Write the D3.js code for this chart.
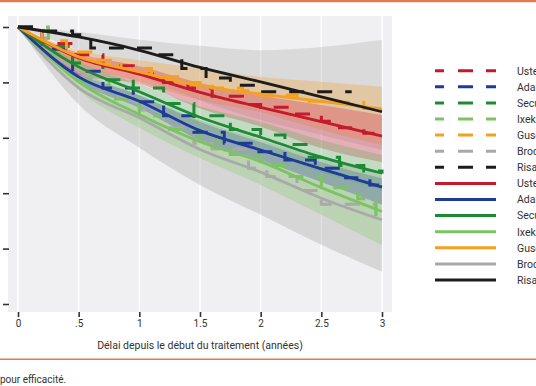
<!DOCTYPE html>
<html><head><meta charset="utf-8">
<script src="https://cdn.jsdelivr.net/npm/d3@7"></script>
<style>body{margin:0;background:#fff;overflow:hidden}svg{display:block}text{font-family:"Roboto","Liberation Sans",sans-serif}</style>
</head><body><svg id="c" width="536" height="386"></svg>
<script>
const series = ["Ustekinumab","Adalimumab","Secukinumab","Ixekizumab","Guselkumab","Brodalumab","Risankizumab"];
const colors = ["#c41a2c","#1f3a98","#1e8a34","#7cc463","#f5a11f","#a9a9a9","#1c1c1c"];
const bandColors = ["#d4485a","#4a6a9a","#5aae5e","#8fcc78","#f0a94a","#b8b8b8","#a8a8a8"];
const bandOpacity = [0.38,0.38,0.3,0.38,0.38,0.45,0.3];
const xTicks = [0,0.5,1,1.5,2,2.5,3];
const xTickLabels = ["0",".5","1","1.5","2","2.5","3"];
const yTicks = [0.5,0.6,0.7,0.8,0.9,1.0];
const times = [0,0.5,1,1.5,2,2.5,3];
// modelled survival (solid lines)
const fitUste = [1,0.944,0.915,0.882,0.855,0.829,0.803];
const fitAda  = [1,0.910,0.866,0.813,0.778,0.744,0.711];
const fitSecu = [1,0.928,0.883,0.837,0.801,0.765,0.736];
const fitIxek = [1,0.901,0.842,0.793,0.757,0.710,0.667];
const fitGuse = [1,0.946,0.919,0.894,0.879,0.866,0.852];
const fitBrod = [1,0.890,0.836,0.779,0.738,0.691,0.652];
const fitRisa = [1,0.982,0.958,0.927,0.901,0.874,0.847];
// confidence bands
const loUste = [1,0.913,0.897,0.853,0.820,0.781,0.756];
const hiUste = [1,0.953,0.929,0.899,0.877,0.859,0.841];
const loAda  = [1,0.901,0.854,0.796,0.760,0.720,0.679];
const hiAda  = [1,0.917,0.877,0.829,0.792,0.756,0.727];
const loSecu = [1,0.919,0.868,0.818,0.778,0.738,0.706];
const hiSecu = [1,0.937,0.897,0.857,0.829,0.796,0.769];
const loIxek = [1,0.886,0.818,0.763,0.715,0.661,0.606];
const hiIxek = [1,0.912,0.859,0.814,0.781,0.742,0.709];
const loGuse = [1,0.933,0.901,0.868,0.846,0.814,0.787];
const hiGuse = [1,0.958,0.940,0.926,0.910,0.901,0.892];
const loBrod = [1,0.860,0.782,0.715,0.661,0.607,0.558];
const hiBrod = [1,0.922,0.877,0.832,0.796,0.763,0.733];
const loRisa = [1,0.958,0.913,0.868,0.832,0.805,0.778];
const hiRisa = [1,0.991,0.977,0.966,0.958,0.964,0.977];
// observed Kaplan-Meier steps [time, survival]
const kmUste = [[0,1],[0.2,0.97],[0.45,0.95],[0.7,0.93],[0.95,0.915],[1.2,0.9],[1.4,0.89],[1.6,0.875],[1.85,0.86],[2.0,0.855],[2.25,0.843],[2.5,0.83],[2.65,0.818],[2.85,0.808],[3,0.8]];
const kmAda  = [[0,1],[0.2,0.96],[0.45,0.92],[0.7,0.89],[0.95,0.865],[1.2,0.84],[1.45,0.81],[1.7,0.79],[1.95,0.775],[2.2,0.76],[2.45,0.745],[2.7,0.728],[2.9,0.715],[3,0.712]];
const kmSecu = [[0,1],[0.2,0.965],[0.45,0.935],[0.7,0.905],[0.95,0.89],[1.2,0.862],[1.45,0.84],[1.75,0.815],[2.0,0.805],[2.2,0.788],[2.4,0.765],[2.65,0.75],[2.85,0.74],[3,0.735]];
const kmIxek = [[0,1],[0.25,0.95],[0.5,0.905],[0.75,0.87],[1.0,0.84],[1.25,0.815],[1.5,0.795],[1.75,0.77],[2.0,0.75],[2.25,0.73],[2.5,0.71],[2.8,0.69],[2.95,0.65],[3,0.65]];
const kmGuse = [[0,1],[0.2,0.975],[0.4,0.955],[0.6,0.94],[0.85,0.925],[1.1,0.91],[1.35,0.9],[1.6,0.89],[1.85,0.885],[2.0,0.877],[2.3,0.866],[2.6,0.864],[2.85,0.853],[3,0.85]];
const kmBrod = [[0,1],[0.2,0.98],[0.27,0.945],[0.45,0.91],[0.6,0.885],[0.75,0.875],[1.0,0.85],[1.2,0.818],[1.45,0.79],[1.6,0.78],[1.9,0.745],[2.05,0.73],[2.3,0.705],[2.5,0.68],[2.95,0.65],[3,0.65]];
const kmRisa = [[0,1],[0.15,0.993],[0.45,0.986],[0.6,0.962],[1.15,0.95],[1.35,0.925],[1.55,0.908],[1.75,0.895],[2.0,0.883],[2.75,0.883]];

const fits=[fitUste,fitAda,fitSecu,fitIxek,fitGuse,fitBrod,fitRisa];
const los=[loUste,loAda,loSecu,loIxek,loGuse,loBrod,loRisa];
const his=[hiUste,hiAda,hiSecu,hiIxek,hiGuse,hiBrod,hiRisa];
const kms=[kmUste,kmAda,kmSecu,kmIxek,kmGuse,kmBrod,kmRisa];

const svg=d3.select("#c");
const x=d3.scaleLinear().domain([0,3]).range([18,382]);
const y=d3.scaleLinear().domain([0.5,1]).range([304,27]);
const orange="#e27b53";
svg.append("rect").attr("x",0).attr("y",0).attr("width",536).attr("height",2.2).attr("fill",orange);
svg.append("rect").attr("x",8).attr("y",16).attr("width",384).attr("height",296).attr("fill","#f0eff1");
svg.append("g").selectAll("line").data(xTicks).join("line")
  .attr("x1",d=>x(d)).attr("x2",d=>x(d)).attr("y1",16).attr("y2",312)
  .attr("stroke","#fff").attr("stroke-width",1.6);
const defs=svg.append("defs");
defs.append("clipPath").attr("id","pc").append("rect").attr("x",8).attr("y",16).attr("width",384).attr("height",296);
const g=svg.append("g").attr("clip-path","url(#pc)");
const area=d3.area().x((d,i)=>x(times[i])).y0(d=>y(d[0])).y1(d=>y(d[1])).curve(d3.curveMonotoneX);
const bandOrder=[6,5,4,0,3,1,2];
bandOrder.forEach(k=>{
  g.append("path").datum(los[k].map((v,i)=>[v,his[k][i]])).attr("d",area)
   .attr("fill",bandColors[k]).attr("fill-opacity",bandOpacity[k]);
});
const step=d3.line().x(d=>x(d[0])).y(d=>y(d[1])).curve(d3.curveStepAfter);
[5,3,1,2,0,4,6].forEach(k=>{
  g.append("path").datum(kms[k]).attr("d",step).attr("fill","none")
   .attr("stroke",colors[k]).attr("stroke-width",3).attr("stroke-dasharray","15,13");
});
const line=d3.line().x((d,i)=>x(times[i])).y(d=>y(d)).curve(d3.curveMonotoneX);
[5,3,1,2,0,4,6].forEach(k=>{
  g.append("path").datum(fits[k]).attr("d",line).attr("fill","none")
   .attr("stroke",colors[k]).attr("stroke-width",2.8);
});
// axes
const xa=svg.append("g").attr("transform","translate(0,312)")
  .call(d3.axisBottom(x).tickValues(xTicks).tickFormat((d,i)=>xTickLabels[i]).tickSize(5).tickPadding(3));
xa.select(".domain").remove();
xa.selectAll("line").attr("stroke","#333").attr("stroke-width",1.6);
xa.selectAll("text").attr("font-size",10).attr("fill","#333");
const ya=svg.append("g").attr("transform","translate(9,0)")
  .call(d3.axisLeft(y).tickValues(yTicks).tickFormat("").tickSize(6));
ya.select(".domain").remove();
ya.selectAll("line").attr("stroke","#333").attr("stroke-width",1.6);
svg.append("text").attr("x",200).attr("y",349).attr("text-anchor","middle").attr("font-size",10.5).attr("fill","#333")
  .text("Délai depuis le début du traitement (années)");
svg.append("rect").attr("x",0).attr("y",358.5).attr("width",536).attr("height",1.5).attr("fill",orange);
svg.append("text").attr("x",0).attr("y",383).attr("font-size",10).attr("fill","#333").text("pour efficacité.");
// legend
const leg=svg.append("g");
const items=[];
series.forEach((s,i)=>items.push({k:i,dash:true,label:s+" (KM)"}));
series.forEach((s,i)=>items.push({k:i,dash:false,label:s+" (modèle)"}));
items.forEach((it,j)=>{
  const yy=70.7+16.1*j;
  leg.append("line").attr("x1",435).attr("x2",496).attr("y1",yy).attr("y2",yy)
    .attr("stroke",colors[it.k]).attr("stroke-width",3)
    .attr("stroke-dasharray",it.dash?"9,14,15,13,10":null);
  leg.append("text").attr("x",517).attr("y",yy+3.8).attr("font-size",10.5).attr("fill","#333").text(it.label);
});
</script></body></html>
